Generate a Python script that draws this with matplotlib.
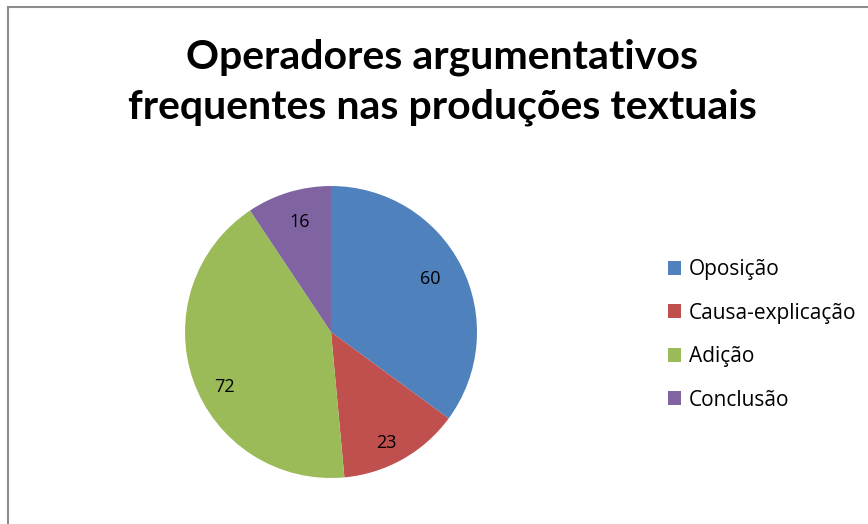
import matplotlib

matplotlib.use("Agg")
import matplotlib.pyplot as plt  # noqa: E402
import numpy as np  # noqa: E402
from matplotlib.patches import Patch, Rectangle  # noqa: E402

categories = ["Oposição", "Causa-explicação", "Adição", "Conclusão"]
values = [60, 23, 72, 16]
colors = ["#4F81BD", "#C0504D", "#9BBB59", "#8064A2"]
title = "Operadores argumentativos\nfrequentes nas produções textuais"

# Excel-style label placement: radius fraction and angle nudge per slice
label_radius = [0.78, 0.83, 0.81, 0.80]
label_nudge = [2.3, -2.1, 6.5, -1.3]

W, H = 868, 524
plt.rcParams["font.family"] = ["Lato", "DejaVu Sans"]
fig = plt.figure(figsize=(W / 100, H / 100), dpi=100)

# chart frame (right and bottom edges fall outside the picture)
fig.patches.append(Rectangle((8 / W, -0.1), 1.2, 1.1 - 7 / H, transform=fig.transFigure,
                             fill=False, edgecolor="#8c8c8c", linewidth=1.5))

cx, cy, r = 331, 332, 146
ax = fig.add_axes([(cx - r) / W, (H - cy - r) / H, 2 * r / W, 2 * r / H])
wedges, _, autotexts = ax.pie(values, colors=colors, startangle=90, counterclock=False,
                              autopct=lambda p: f"{p * sum(values) / 100:.0f}",
                              pctdistance=0.78, radius=1,
                              textprops=dict(fontsize=13, color="black",
                                             family=["Open Sans", "DejaVu Sans"]))
for w, t, lr, nd in zip(wedges, autotexts, label_radius, label_nudge):
    th = np.deg2rad((w.theta1 + w.theta2) / 2 + nd)
    t.set_position((lr * np.cos(th), lr * np.sin(th) - 0.02))
ax.set_xlim(-1, 1)
ax.set_ylim(-1, 1)
ax.set_aspect("equal")

fig.text(442 / W, 1 - 82 / H, title, ha="center", va="center", fontsize=29.5,
         fontweight="bold", linespacing=1.4)

handles = [Patch(facecolor=c, edgecolor="none") for c in colors]
fig.legend(handles, categories, loc="center left", bbox_to_anchor=(649 / W, 1 - 335 / H),
           frameon=False, prop=dict(family=["Open Sans", "DejaVu Sans"], size=15),
           handlelength=0.65, handleheight=0.65, handletextpad=0.35, labelspacing=1.08)

fig.savefig("out.png", dpi=100)
